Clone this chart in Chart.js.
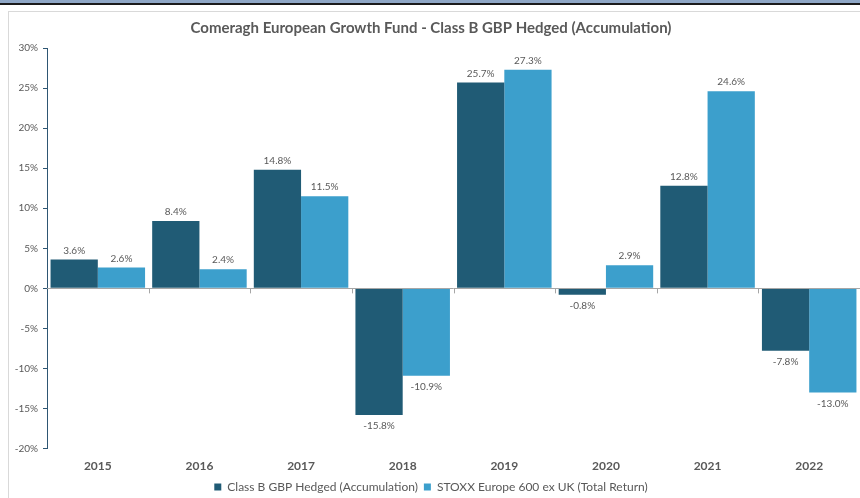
<!DOCTYPE html>
<html>
<head>
<meta charset="utf-8">
<script src="https://cdn.jsdelivr.net/npm/chart.js@4"></script>
<style>
    html, body { margin: 0; padding: 0; background: #fff; }
    #wrap { position: relative; width: 860px; height: 498px; overflow: hidden; }
    #topStrip { position: absolute; left: 0; top: 0; width: 860px; height: 3px; background: #8fa7c6; }
    #topLine { position: absolute; left: 0; top: 3px; width: 860px; height: 2px; background: #1b1b1b; }
    #frame { position: absolute; left: 8px; top: 11px; width: 860px; height: 500px; border-left: 1px solid #d9d9d9; border-top: 1px solid #d9d9d9; }
    #chartBox { position: absolute; left: 0; top: 0; width: 860px; height: 498px; }
</style>
</head>
<body>
<div id="wrap">
    <div id="frame"></div>
    <div id="chartBox"><canvas id="returnsChart"></canvas></div>
    <div id="topStrip"></div>
    <div id="topLine"></div>
</div>
<script>
// Chart data
const years = ['2015', '2016', '2017', '2018', '2019', '2020', '2021', '2022'];
const fundReturns = [3.6, 8.4, 14.8, -15.8, 25.7, -0.8, 12.8, -7.8];
const indexReturns = [2.6, 2.4, 11.5, -10.9, 27.3, 2.9, 24.6, -13.0];
const seriesNames = ['Class B GBP Hedged (Accumulation)', 'STOXX Europe 600 ex UK (Total Return)'];

const darkBlue = 'rgb(32, 91, 117)';
const lightBlue = 'rgb(60, 159, 204)';
const textGrey = '#595959';

// Zero line with small category tick marks
const zeroLinePlugin = {
    id: 'zeroLine',
    afterDatasetsDraw(chart) {
        const { ctx, chartArea, scales } = chart;
        const y0 = scales.y.getPixelForValue(0);
        ctx.save();
        ctx.strokeStyle = '#a6a6a6';
        ctx.lineWidth = 1;
        ctx.beginPath();
        ctx.moveTo(chartArea.left, Math.round(y0) + 0.5);
        ctx.lineTo(chartArea.right, Math.round(y0) + 0.5);
        const step = (chartArea.right - chartArea.left) / years.length;
        for (let i = 1; i < years.length; i++) {
            const px = Math.round(chartArea.left + step * i) + 0.5;
            ctx.moveTo(px, y0);
            ctx.lineTo(px, y0 + 5);
        }
        ctx.stroke();
        ctx.restore();
    }
};

// Value labels above / below bars
const valueLabelPlugin = {
    id: 'valueLabels',
    afterDatasetsDraw(chart) {
        const { ctx } = chart;
        ctx.save();
        ctx.font = '10px Lato';
        ctx.fillStyle = textGrey;
        ctx.textAlign = 'center';
        ctx.textBaseline = 'middle';
        chart.data.datasets.forEach((ds, di) => {
            chart.getDatasetMeta(di).data.forEach((bar, i) => {
                const v = ds.data[i];
                const y = v >= 0 ? bar.y - 9 : bar.y + 11;
                ctx.fillText(v.toFixed(1) + '%', bar.x, y);
            });
        });
        ctx.restore();
    }
};

new Chart(document.getElementById('returnsChart'), {
    type: 'bar',
    data: {
        labels: years,
        datasets: [{
            label: seriesNames[0],
            data: fundReturns,
            backgroundColor: darkBlue,
            borderWidth: 0
        }, {
            label: seriesNames[1],
            data: indexReturns,
            backgroundColor: lightBlue,
            borderWidth: 0
        }]
    },
    options: {
        responsive: true,
        maintainAspectRatio: false,
        animation: false,
        datasets: {
            bar: { categoryPercentage: 0.93, barPercentage: 1.0 }
        },
        layout: { padding: { left: 0, right: -2, top: 0, bottom: -5 } },
        scales: {
            x: {
                grid: { display: false },
                border: { display: false },
                ticks: {
                    color: textGrey,
                    font: { family: 'Lato', size: 12, weight: 'bold' },
                    padding: 2
                }
            },
            y: {
                min: -20,
                max: 30,
                afterFit: (scale) => { scale.width = 47; },
                ticks: {
                    stepSize: 5,
                    color: textGrey,
                    font: { family: 'Lato', size: 10 },
                    padding: 5,
                    callback: (v) => v + '%'
                },
                grid: {
                    drawOnChartArea: false,
                    drawTicks: true,
                    tickLength: 4,
                    color: '#2e5673'
                },
                border: { display: true, color: '#2e5673', width: 1 }
            }
        },
        plugins: {
            title: {
                display: true,
                text: 'Comeragh European Growth Fund - Class B GBP Hedged (Accumulation)',
                color: textGrey,
                font: { family: 'Lato', size: 15, weight: 'bold' },
                padding: { top: 19, bottom: 11 }
            },
            legend: {
                position: 'bottom',
                labels: {
                    color: textGrey,
                    font: { family: 'Lato', size: 12 },
                    boxWidth: 7,
                    boxHeight: 7,
                    padding: 6
                }
            },
            tooltip: { enabled: false }
        }
    },
    plugins: [zeroLinePlugin, valueLabelPlugin]
});
</script>
</body>
</html>
